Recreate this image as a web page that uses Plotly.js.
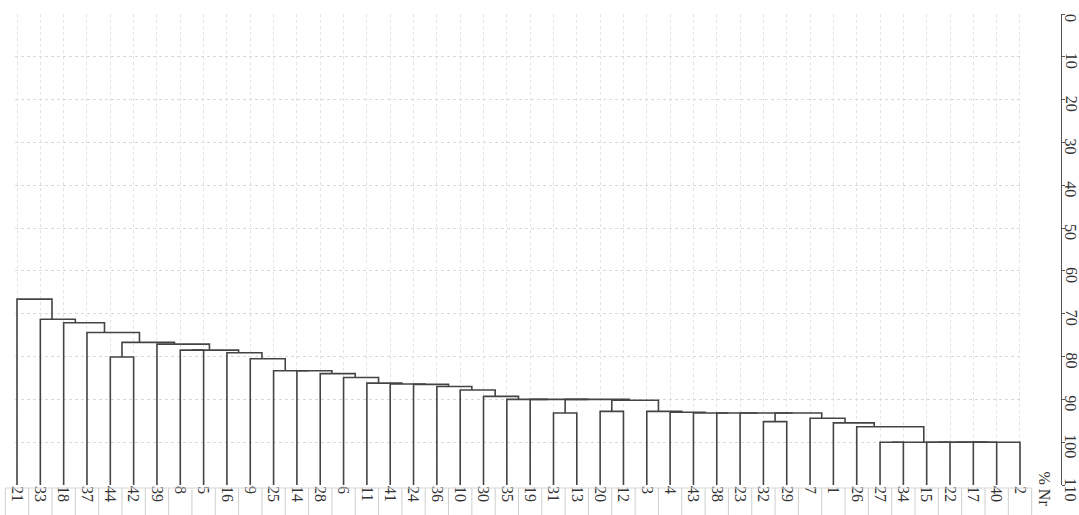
<!DOCTYPE html>
<html><head><meta charset="utf-8">
<script src="https://cdn.plot.ly/plotly-3.0.1.min.js"></script>
<style>html,body{margin:0;padding:0;background:#fff;}#chart{width:1079px;height:515px;}</style>
</head><body><div id="chart"></div>
<script>
// Leaf order (left to right)
const leafLabels = ["21","33","18","37","44","42","39","8","5","16","9","25","14","28","6","11","41","24","36","10","30","35","19","31","13","20","12","3","4","43","38","23","32","29","7","1","26","27","34","15","22","17","40","2"];
// Merges, bottom-up: node id, left child, right child, joining level (% Nr)
const mergeIds = ["n1","n2","n3","n4","n5","n6","n7","n8","n9","n10","n11","n12","n13","n14","n15","n16","n17","n18","n19","n20","n21","n22","n23","n24","n25","n26","n27","n28","n29","n30","n31","n32","n33","n34","n35","n36","n37","n38","n39","n40","n41","n42","n43"];
const mergeLeft = ["27","15","17","n2","n4","n1","26","1","7","32","n10","23","38","43","4","3","20","n17","31","n19","19","35","30","10","36","24","41","11","6","28","14","25","9","16","8","n35","39","44","n38","37","18","33","21"];
const mergeRight = ["34","22","40","n3","2","n5","n6","n7","n8","29","n9","n11","n12","n13","n14","n15","12","n16","13","n18","n20","n21","n22","n23","n24","n25","n26","n27","n28","n29","n30","n31","n32","n33","5","n34","n36","42","n37","n39","n40","n41","n42"];
const mergeHeight = [100,100,100,100,100,100,96.4,95.5,94.4,95.2,93.2,93.2,93.2,93.2,93.0,92.8,92.8,90.2,93.2,90.0,90.0,90.0,89.3,87.8,87.0,86.5,86.4,86.2,84.9,84.0,83.3,83.3,80.5,79.1,78.5,78.5,77.1,80.1,76.7,74.4,72.1,71.3,66.6];
const yTickVals = [0,10,20,30,40,50,60,70,80,90,100,110];
const axisLabel = "% Nr";

const yBase = yTickVals[yTickVals.length-1];
const nodes = {};
mergeIds.forEach((id,k)=>{ nodes[id] = {left:mergeLeft[k], right:mergeRight[k], h:mergeHeight[k]}; });
const isLeaf = r => !(r in nodes);
const xs = {}, ys = {};
leafLabels.forEach((l,i)=>{ xs[l]=i; ys[l]=yBase; });
const firstChild = r => isLeaf(r) ? r : nodes[r].left;
mergeIds.forEach(id=>{ const n=nodes[id]; xs[id]=(xs[n.left]+xs[firstChild(n.right)])/2; ys[id]=n.h; });

const lx=[], ly=[];
mergeIds.forEach(id=>{
  const n=nodes[id];
  lx.push(xs[n.left], xs[n.left], xs[n.right], xs[n.right], null);
  ly.push(ys[n.left], n.h, n.h, ys[n.right], null);
});

const W=1079, H=515, mL=15, mT=14, mB=30;
const plotW = W-mL, plotH = H-mT-mB;
const xDomain = [0, 1007/plotW];
const xRange = [-0.086, leafLabels.length-1+0.086];
const toPaperX = v => xDomain[0] + (v-xRange[0])/(xRange[1]-xRange[0])*(xDomain[1]-xDomain[0]);
const pyOff = px => -px/plotH;

const shapes = [];
for(let i=-1;i<leafLabels.length;i++){
  const xp = toPaperX(i+0.5);
  shapes.push({type:'line', xref:'paper', yref:'paper', x0:xp, x1:xp, y0:pyOff(3), y1:pyOff(40), line:{color:'#cfcfcf', width:1}});
}
shapes.push({type:'line', xref:'paper', yref:'paper', x0:toPaperX(-0.5), x1:toPaperX(leafLabels.length-0.5), y0:pyOff(3), y1:pyOff(3), line:{color:'#d6d6d6', width:1}});

const font = {family:'Liberation Serif, Times New Roman, serif', size:16, color:'#333'};
const annotations = [{text:axisLabel, xref:'paper', yref:'paper', x:(1044-mL)/plotW, y:pyOff(3.5), textangle:90, showarrow:false,
    xanchor:'center', yanchor:'middle', font:font}];
yTickVals.forEach(v=>{
  annotations.push({text:String(v), xref:'paper', yref:'y', x:(1071-mL)/plotW, y:v, yshift:-4, textangle:90, showarrow:false,
    xanchor:'center', yanchor:'middle', font:font});
});

const data = [{type:'scatter', mode:'lines', x:lx, y:ly, line:{color:'#444', width:1.6}, hoverinfo:'skip', showlegend:false, cliponaxis:false}];
const layout = {
  width:W, height:H, margin:{l:mL, r:0, t:mT, b:mB},
  paper_bgcolor:'#fff', plot_bgcolor:'#fff', showlegend:false,
  xaxis:{range:xRange, domain:xDomain, tickmode:'array', tickvals:leafLabels.map((_,i)=>i), ticktext:leafLabels,
    tickangle:90, showgrid:true, gridcolor:'#e3e3e3', griddash:'dot', gridwidth:1, zeroline:false, showline:false, ticks:'',
    tickfont:font, automargin:false, fixedrange:true},
  yaxis:{range:[yBase,0], side:'right', anchor:'free', position:1046/plotW, tickmode:'array', tickvals:yTickVals,
    showticklabels:false, showline:true, linecolor:'#555', linewidth:1.2, ticks:'outside', ticklen:3, tickcolor:'#555',
    showgrid:true, gridcolor:'#d9d9d9', griddash:'dot', gridwidth:1, zeroline:false, automargin:false, fixedrange:true},
  shapes:shapes,
  annotations:annotations
};
Plotly.newPlot('chart', data, layout, {displayModeBar:false, staticPlot:true});
</script></body></html>
